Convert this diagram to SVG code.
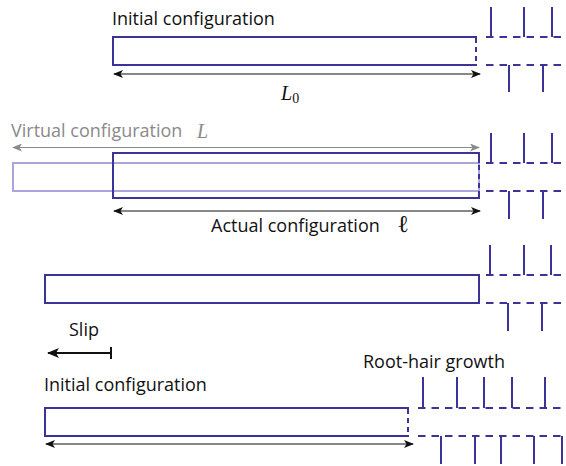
<svg xmlns="http://www.w3.org/2000/svg" width="566" height="466" viewBox="0 0 566 466">
  <defs>
    <style>
      .root { fill: none; stroke: #3b3397; stroke-width: 2; }
      .ghost { fill: none; stroke: #aaa5db; stroke-width: 2; }
      .dash { fill: none; stroke: #3b3397; stroke-width: 2; stroke-dasharray: 7.5 6; }
      .vdash { fill: none; stroke: #3b3397; stroke-width: 2; stroke-dasharray: 5 4; }
      .hair { stroke: #3b3397; stroke-width: 2; }
      .dim { stroke: #111; stroke-width: 1.2; fill: none; }
      .dimg { stroke: #8a8a8a; stroke-width: 1.2; fill: none; }
      .lbl { font-family: "Open Sans", "Noto Sans", sans-serif; font-size: 18px; fill: #111; }
      .lblg { font-family: "Open Sans", "Noto Sans", sans-serif; font-size: 18px; fill: #8a8a8a; }
      .math { font-family: "Liberation Serif", "DejaVu Serif", serif; font-style: italic; font-size: 20px; }
      .ell { font-family: "DejaVu Serif", serif; font-size: 24px; }
      .sub { font-family: "Liberation Serif", "DejaVu Serif", serif; font-style: normal; font-size: 14px; }
    </style>
    <marker id="ah" viewBox="0 0 10 8" refX="9" refY="4" markerWidth="10" markerHeight="8" markerUnits="userSpaceOnUse" orient="auto-start-reverse">
      <path d="M0,0 L10,4 L0,8 L2.5,4 z" fill="#111"/>
    </marker>
    <marker id="ahg" viewBox="0 0 10 8" refX="9" refY="4" markerWidth="10" markerHeight="8" markerUnits="userSpaceOnUse" orient="auto-start-reverse">
      <path d="M0,0 L10,4 L0,8 L2.5,4 z" fill="#8a8a8a"/>
    </marker>
    <marker id="slip" viewBox="0 0 12 10" refX="11" refY="5" markerWidth="12" markerHeight="10" markerUnits="userSpaceOnUse" orient="auto">
      <path d="M0,0 L12,5 L0,10 L3,5 z" fill="#111"/>
    </marker>
  </defs>

  <!-- Initial configuration -->
  <g id="initial">
    <text class="lbl" x="112" y="25">Initial configuration</text>
    <path class="root" d="M477,37 H113 V65 H477"/>
    <line class="vdash" x1="476" y1="38" x2="476" y2="64"/>
    <line class="dash" x1="486" y1="37" x2="566" y2="37"/>
    <line class="dash" x1="486" y1="65" x2="566" y2="65"/>
    <line class="hair" x1="491" y1="7" x2="491" y2="37"/>
    <line class="hair" x1="524" y1="7" x2="524" y2="37"/>
    <line class="hair" x1="552" y1="7" x2="552" y2="37"/>
    <line class="hair" x1="509" y1="65" x2="509" y2="92"/>
    <line class="hair" x1="543" y1="65" x2="543" y2="92"/>
    <text class="math" x="281" y="100" fill="#111">L<tspan class="sub" dy="3">0</tspan></text>
  </g>

  <!-- Virtual and actual configuration -->
  <g id="virtual-actual">
    <text class="lblg" x="11" y="137">Virtual configuration</text>
    <text class="math" x="197" y="138" fill="#8a8a8a">L</text>
    <rect class="ghost" x="13" y="163" width="466" height="28"/>
    <path class="root" d="M479,153 H113 V198 H479"/>
    <line class="root" x1="479" y1="152" x2="479" y2="163"/>
    <line class="root" x1="479" y1="191" x2="479" y2="199"/>
    <line class="vdash" x1="479" y1="165" x2="479" y2="190"/>
    <line class="dash" x1="486" y1="163" x2="566" y2="163"/>
    <line class="dash" x1="486" y1="191" x2="566" y2="191"/>
    <line class="hair" x1="491" y1="133" x2="491" y2="163"/>
    <line class="hair" x1="524" y1="133" x2="524" y2="163"/>
    <line class="hair" x1="552" y1="133" x2="552" y2="163"/>
    <line class="hair" x1="509" y1="191" x2="509" y2="219"/>
    <line class="hair" x1="543" y1="191" x2="543" y2="219"/>
    <text class="lbl" x="211" y="232">Actual configuration</text>
    <text class="ell" x="397" y="232" fill="#111">ℓ</text>
  </g>

  <!-- Slipped configuration -->
  <g id="slipped">
    <rect class="root" x="45" y="275" width="434" height="28"/>
    <line class="dash" x1="486" y1="275" x2="566" y2="275"/>
    <line class="dash" x1="486" y1="303" x2="566" y2="303"/>
    <line class="hair" x1="490" y1="245" x2="490" y2="275"/>
    <line class="hair" x1="524" y1="245" x2="524" y2="275"/>
    <line class="hair" x1="551" y1="245" x2="551" y2="275"/>
    <line class="hair" x1="508" y1="303" x2="508" y2="331"/>
    <line class="hair" x1="542" y1="303" x2="542" y2="331"/>
    <text class="lbl" x="69" y="336">Slip</text>
  </g>

  <!-- Root-hair growth -->
  <g id="growth">
    <text class="lbl" x="363" y="368">Root-hair growth</text>
    <text class="lbl" x="44" y="391">Initial configuration</text>
    <path class="root" d="M409,408 H45 V436 H409"/>
    <line class="vdash" x1="408" y1="409" x2="408" y2="435"/>
    <line class="dash" x1="418" y1="408" x2="566" y2="408"/>
    <line class="dash" x1="418" y1="436" x2="566" y2="436"/>
    <line class="hair" x1="423" y1="377" x2="423" y2="408"/>
    <line class="hair" x1="457" y1="377" x2="457" y2="408"/>
    <line class="hair" x1="484" y1="377" x2="484" y2="408"/>
    <line class="hair" x1="512" y1="377" x2="512" y2="408"/>
    <line class="hair" x1="545" y1="377" x2="545" y2="408"/>
    <line class="hair" x1="441" y1="436" x2="441" y2="464"/>
    <line class="hair" x1="475" y1="436" x2="475" y2="464"/>
    <line class="hair" x1="501" y1="436" x2="501" y2="464"/>
    <line class="hair" x1="534" y1="436" x2="534" y2="464"/>
    <line class="hair" x1="562" y1="436" x2="562" y2="464"/>
  </g>

  <!-- Length and slip arrows -->
  <g id="connectors">
    <line class="dim" x1="114" y1="74" x2="480" y2="74" marker-start="url(#ah)" marker-end="url(#ah)"/>
    <line class="dimg" x1="13" y1="147.5" x2="479" y2="147.5" marker-start="url(#ahg)" marker-end="url(#ahg)"/>
    <line class="dim" x1="114" y1="211" x2="480" y2="211" marker-start="url(#ah)" marker-end="url(#ah)"/>
    <line stroke="#111" stroke-width="2" x1="111" y1="353" x2="48" y2="353" marker-end="url(#slip)"/>
    <line stroke="#111" stroke-width="2" x1="111" y1="347" x2="111" y2="359"/>
    <line class="dim" x1="46" y1="444" x2="413" y2="444" marker-start="url(#ah)" marker-end="url(#ah)"/>
  </g>
</svg>
